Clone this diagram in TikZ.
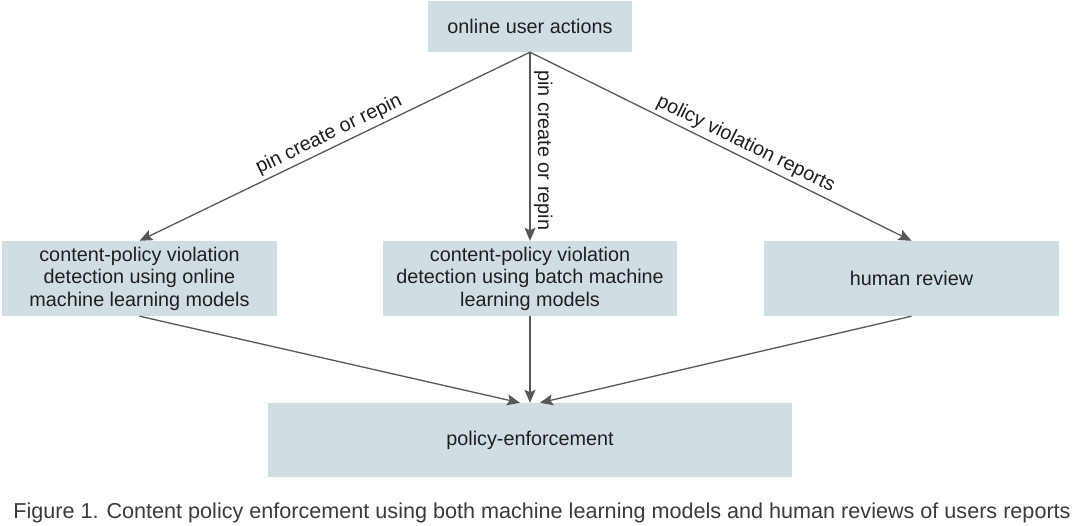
\documentclass[tikz,border=0pt]{standalone}
\usepackage{fontspec}
\setmainfont{Liberation Sans}
\usetikzlibrary{arrows.meta}
\definecolor{boxfill}{HTML}{D0DEE3}
\definecolor{linegray}{HTML}{585858}
\definecolor{capgray}{HTML}{3A3A3A}
\begin{document}
\begin{tikzpicture}[x=1pt,y=-1pt]
	\tikzstyle{box}=[rectangle,fill=boxfill,inner sep=0pt,align=center,text=black!88,font=\fontsize{19.8}{22.5}\selectfont]
	\tikzstyle{flow}=[draw=linegray,line width=1.3pt,-{Stealth[length=13pt,width=11pt,inset=2.5pt]}]
	\tikzstyle{lbl}=[font=\fontsize{19.8}{23}\selectfont,text=black!88,sloped]
	\useasboundingbox (0,0) rectangle (1078,526);
	\begin{scope}
	\node[box,minimum width=204pt,minimum height=51pt] (actions) at (530,26.5) {online user actions};
	\node[box,minimum width=275pt,minimum height=75pt] (online) at (139.5,278.5) {content-policy violation\\detection using online\\machine learning models};
	\node[box,minimum width=294pt,minimum height=75pt] (batch) at (530,278.5) {content-policy violation\\detection using batch machine\\learning models};
	\node[box,minimum width=295pt,minimum height=75pt] (review) at (911.5,278.5) {human review};
	\node[box,minimum width=524pt,minimum height=74pt] (enforce) at (530,440) {policy-enforcement};
	\node[text=capgray,font=\fontsize{21.6}{24}\selectfont] (caption) at (542,513) {Figure 1. Content policy enforcement using both machine learning models and human reviews of users reports};
	\coordinate (enforce-l) at ([xshift=-10pt]enforce.north);
	\coordinate (enforce-r) at ([xshift=10pt]enforce.north);
	\end{scope}
	
	\path
	(actions.south) edge[flow] node[lbl,above,pos=0.5] {pin create or repin} (online.north)
	(actions.south) edge[flow] node[lbl,above,pos=0.52] {pin create or repin} (batch.north)
	(actions.south) edge[flow] node[lbl,above,pos=0.55] {policy violation reports} (review.north)
	
	(online.south) edge[flow] (enforce-l)
	(batch.south) edge[flow] (enforce.north)
	(review.south) edge[flow] (enforce-r)
	;
\end{tikzpicture}
\end{document}
